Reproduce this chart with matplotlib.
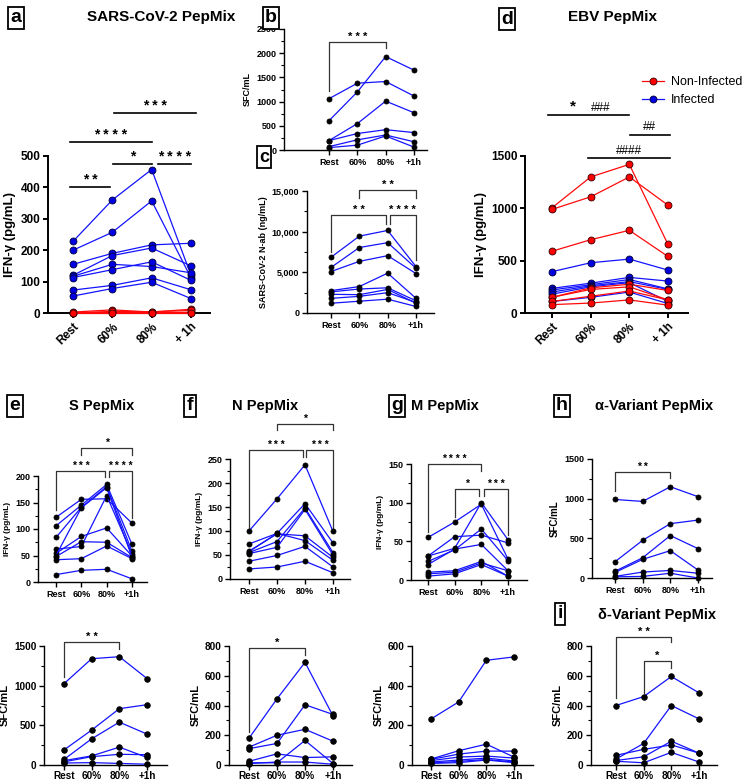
import matplotlib
matplotlib.use('Agg')
import matplotlib.pyplot as plt
from matplotlib.ticker import MultipleLocator, FuncFormatter

plt.rcParams['font.family'] = ['Liberation Sans', 'DejaVu Sans']

W, H = 743, 783
cats = [0, 1, 2, 3]
xlab_big = ['Rest', '60%', '80%', '+ 1h']
xlab_small = ['Rest', '60%', '80%', '+1h']

# a: SARS-CoV-2 PepMix IFN-g (pg/mL)
a_infected = [[228, 360, 457, 120], [200, 257, 357, 112], [155, 190, 217, 222],
              [120, 183, 207, 150], [117, 155, 148, 128], [113, 138, 163, 104],
              [73, 88, 112, 74], [54, 78, 98, 46]]
a_noninf = [[3, 10, 3, 12], [0, 2, 1, 2], [1, 5, 4, 8], [0, 0, 0, 0]]
# b: SFC/mL
b_sfc = [[605, 1200, 1930, 1650], [1060, 1380, 1415, 1115], [195, 545, 1010, 770],
         [195, 340, 420, 360], [70, 210, 310, 170], [50, 100, 290, 60]]
# c: N-ab (ng/mL)
c_nab = [[6850, 9450, 10150, 5700], [5600, 8050, 8650, 5500], [5100, 6350, 7050, 4850],
         [2750, 3250, 4900, 1800], [2600, 2950, 3100, 1500], [2300, 2250, 2900, 1200],
         [1800, 2050, 2500, 1300], [1200, 1450, 1700, 800]]
# d: EBV PepMix
d_noninf = [[1005, 1300, 1420, 655], [990, 1110, 1300, 1030], [590, 700, 790, 540],
            [150, 240, 275, 215], [150, 225, 250, 125], [110, 160, 210, 125],
            [80, 95, 125, 75]]
d_infected = [[395, 480, 515, 410], [235, 285, 340, 305], [220, 270, 320, 230],
              [200, 260, 300, 225], [180, 250, 290, 110], [110, 150, 200, 90]]
# e-h top row IFN-g / SFC
e_ifn = [[122, 156, 157, 111], [106, 145, 184, 71], [84, 141, 180, 58],
         [62, 67, 163, 53], [54, 86, 102, 49], [48, 76, 75, 46],
         [42, 44, 68, 44], [50, 140, 178, 47], [14, 22, 24, 6]]
f_ifn = [[100, 167, 238, 99], [73, 95, 157, 75], [58, 94, 90, 45],
         [55, 78, 148, 55], [53, 66, 145, 50], [57, 95, 80, 39],
         [37, 49, 68, 25], [21, 25, 37, 13]]
g_ifn = [[55, 75, 98, 27], [31, 56, 58, 48], [31, 41, 100, 52], [24, 39, 66, 25],
         [20, 40, 46, 12], [10, 12, 24, 5], [8, 10, 22, 12], [5, 8, 20, 5]]
h_sfc = [[990, 965, 1150, 1025], [205, 475, 685, 730], [85, 255, 535, 370],
         [70, 235, 345, 100], [20, 75, 95, 60], [15, 20, 60, 0]]
# bottom row SFC/mL
e2_sfc = [[1025, 1340, 1365, 1090], [190, 440, 710, 760], [70, 330, 540, 390],
          [55, 115, 225, 95], [40, 105, 135, 130], [25, 30, 20, 10]]
f2_sfc = [[180, 445, 690, 330], [110, 145, 405, 340], [120, 200, 240, 160],
          [25, 75, 50, 55], [15, 15, 165, 10], [10, 20, 20, 5]]
g2_sfc = [[232, 318, 528, 545], [30, 72, 105, 40], [28, 55, 70, 70], [22, 40, 45, 35],
          [15, 25, 35, 20], [10, 18, 28, 15], [8, 12, 25, 12]]
i_sfc = [[400, 460, 595, 485], [40, 145, 400, 310], [65, 105, 135, 80],
         [30, 55, 160, 80], [25, 15, 85, 20]]

BLUE = '#1414ff'
RED = '#ff0a0a'

fig = plt.figure(figsize=(W / 100, H / 100), dpi=100)


def make_ax(L, rest, last, R, top, bot, ymax, major, minor, tfs, lw=1.0, xpad=2):
    ax = fig.add_axes([L / W, 1 - bot / H, (R - L) / W, (bot - top) / H])
    s = (last - rest) / 3
    ax.set_xlim((L - rest) / s, (R - rest) / s)
    ax.set_ylim(0, ymax)
    ax.spines[['top', 'right']].set_visible(False)
    for sp in ['left', 'bottom']:
        ax.spines[sp].set_linewidth(lw)
    ax.yaxis.set_major_locator(MultipleLocator(major))
    if minor:
        ax.yaxis.set_minor_locator(MultipleLocator(minor))
    ax.set_xticks(cats)
    ax.tick_params(axis='both', which='major', labelsize=tfs, width=lw, length=3.5, pad=2)
    ax.tick_params(axis='x', which='major', pad=xpad)
    ax.tick_params(axis='y', which='minor', width=lw * 0.8, length=2)
    for t in ax.get_xticklabels() + ax.get_yticklabels():
        t.set_fontweight('bold')
    return ax


def lines(ax, data, color, mfc, mec, ms, lw=0.9):
    out = None
    for row in data:
        out, = ax.plot(cats, row, '-o', color=color, mfc=mfc, mec=mec, ms=ms, lw=lw,
                       mew=0.6, clip_on=False, zorder=3)
    return out


def bracket(ax, x1, x2, y, yl1, yl2, text, fs, lw=0.9):
    ax.plot([x1, x1, x2, x2], [yl1, y, y, yl2], color='#333333', lw=lw, clip_on=False)
    ax.text((x1 + x2) / 2, y, text, ha='center', va='bottom', fontsize=fs,
            fontweight='bold', clip_on=False)


def hline(ax, x1, x2, y, text, fs, lw=1.2):
    ax.plot([x1, x2], [y, y], color='black', lw=lw, clip_on=False)
    if text:
        ax.text((x1 + x2) / 2, y, text, ha='center', va='bottom', fontsize=fs,
                fontweight='bold', clip_on=False)


def letter(x, y, s, fs=14):
    fig.text(x / W, 1 - y / H, s, fontsize=fs, fontweight='bold', ha='center', va='center',
             bbox=dict(boxstyle='square,pad=0.12', fc='white', ec='black', lw=1.3))


def title(x, y, s, fs=10.5):
    fig.text(x / W, 1 - y / H, s, fontsize=fs, fontweight='bold', ha='center', va='center')


def small_labels(ax, ylabel, yfs):
    ax.set_xticklabels(xlab_small)
    for t in ax.get_xticklabels():
        t.set_fontweight('bold')
    ax.set_ylabel(ylabel, fontsize=yfs, fontweight='bold', labelpad=3)


# ---- a ----
ax = make_ax(48, 73, 191, 210, 156, 313, 500, 100, None, 8.5, lw=1.4)
lines(ax, a_infected, BLUE, '#0000e0', '#000033', 5.0)
lines(ax, a_noninf, RED, '#ff0000', '#330000', 5.0)
ax.set_xticklabels(xlab_big, rotation=45, ha='right', rotation_mode='anchor')
for t in ax.get_xticklabels():
    t.set_fontweight('bold')
ax.set_ylabel('IFN-γ (pg/mL)', fontsize=9.5, fontweight='bold', labelpad=3)
hline(ax, -0.08, 0.94, 401, '* *', 10)
hline(ax, 1.02, 2.0, 475, '*', 10)
hline(ax, 2.15, 3.0, 475, '* * * *', 10)
hline(ax, -0.08, 2.0, 545, '* * * *', 10)
hline(ax, 1.04, 3.13, 637, '* * *', 10)

# ---- b ----
ax = make_ax(284, 329, 414, 427, 29, 150, 2500, 500, 250, 6.5)
lines(ax, b_sfc, BLUE, 'black', 'black', 3.6)
small_labels(ax, 'SFC/mL', 6.5)
bracket(ax, 0, 2.0, 2240, 1226, 2114, '* * *', 8)

# ---- c ----
ax = make_ax(307, 331, 416, 434, 191, 313, 15000, 5000, 2500, 6.5)
lines(ax, c_nab, BLUE, 'black', 'black', 3.6)
ax.yaxis.set_major_formatter(FuncFormatter(lambda v, p: f'{int(v):,}'))
for t in ax.get_yticklabels():
    t.set_fontweight('bold')
small_labels(ax, 'SARS-CoV-2 N-ab (ng/mL)', 6.5)
bracket(ax, 1.0, 3.0, 15120, 14090, 14090, '* *', 8)
bracket(ax, 0, 1.94, 12040, 7500, 11000, '* *', 8)
bracket(ax, 2.07, 3.0, 12040, 11000, 6490, '* * * *', 8)

# ---- d ----
ax = make_ax(525, 552, 668, 688, 156, 313, 1500, 500, None, 8.5, lw=1.4)
h_inf = lines(ax, d_infected, BLUE, '#0000e0', '#000033', 5.0)
h_non = lines(ax, d_noninf, RED, '#ff0000', '#330000', 5.0)
ax.set_xticklabels(xlab_big, rotation=45, ha='right', rotation_mode='anchor')
for t in ax.get_xticklabels():
    t.set_fontweight('bold')
ax.set_ylabel('IFN-γ (pg/mL)', fontsize=9.5, fontweight='bold', labelpad=3)
hline(ax, -0.1, 1.99, 1892, None, 10)
hline(ax, 2.02, 3.05, 1701, None, 10)
hline(ax, 0.93, 3.05, 1481, None, 10)
ax.text(0.54, 1905, '*', ha='center', va='bottom', fontsize=11, fontweight='bold', clip_on=False)
ax.text(1.25, 1905, '###', ha='center', va='bottom', fontsize=8.5, clip_on=False)
ax.text(2.53, 1715, '##', ha='center', va='bottom', fontsize=8.5, clip_on=False)
ax.text(1.99, 1495, '####', ha='center', va='bottom', fontsize=8.5, clip_on=False)
ax.legend([h_non, h_inf], ['Non-Infected', 'Infected'], loc='upper left',
          bbox_to_anchor=(636 / W, 1 - 70 / H), bbox_transform=fig.transFigure,
          frameon=False, fontsize=9, handlelength=1.7, handletextpad=0.6,
          labelspacing=0.45, borderpad=0)

# ---- e ----
ax = make_ax(38, 56, 132, 147, 476, 582, 200, 50, 25, 6.5)
lines(ax, e_ifn, BLUE, 'black', 'black', 3.6)
small_labels(ax, 'IFN-γ (pg/mL)', 6)
bracket(ax, 0, 1.94, 209, 136, 198, '* * *', 7.5)
bracket(ax, 2.09, 3.0, 209, 198, 121, '* * * *', 7.5)
bracket(ax, 1.0, 3.0, 253, 240, 240, '*', 7.5)

# ---- f ----
ax = make_ax(230, 249, 333, 350, 459, 579, 250, 50, 25, 6.5)
lines(ax, f_ifn, BLUE, 'black', 'black', 3.6)
small_labels(ax, 'IFN-γ (pg/mL)', 6)
bracket(ax, 0, 1.94, 269, 100, 254, '* * *', 7.5)
bracket(ax, 2.04, 3.0, 269, 254, 102, '* * *', 7.5)
bracket(ax, 1.0, 3.0, 323, 310, 310, '*', 7.5)

# ---- g ----
ax = make_ax(411, 428, 508, 527, 464, 580, 150, 50, 25, 6.5)
lines(ax, g_ifn, BLUE, 'black', 'black', 3.6)
small_labels(ax, 'IFN-γ (pg/mL)', 6)
bracket(ax, 0, 2.0, 150, 62, 141, '* * * *', 7.5)
bracket(ax, 1.0, 1.9, 118, 81, 109, '*', 7.5)
bracket(ax, 2.1, 3.0, 118, 109, 58, '* * *', 7.5)

# ---- h ----
ax = make_ax(592, 615, 698, 712, 459, 578, 1500, 500, 250, 6.5)
lines(ax, h_sfc, BLUE, 'black', 'black', 3.6)
small_labels(ax, 'SFC/mL', 7)
bracket(ax, 0, 2.0, 1336, 1097, 1260, '* *', 7.5)

# ---- bottom row ----
ax = make_ax(44, 64, 147, 167, 646, 765, 1500, 500, 250, 7.2, xpad=1)
lines(ax, e2_sfc, BLUE, 'black', 'black', 4.0)
small_labels(ax, 'SFC/mL', 8)
bracket(ax, 0, 2.0, 1550, 1110, 1460, '* *', 8)

ax = make_ax(229, 249, 333, 352, 646, 765, 800, 200, 100, 7.2, xpad=1)
lines(ax, f2_sfc, BLUE, 'black', 'black', 4.0)
small_labels(ax, 'SFC/mL', 8)
bracket(ax, 0, 2.0, 787, 225, 740, '*', 8)

ax = make_ax(412, 431, 514, 533, 646, 765, 600, 200, 100, 7.2, xpad=1)
lines(ax, g2_sfc, BLUE, 'black', 'black', 4.0)
small_labels(ax, 'SFC/mL', 8)

ax = make_ax(591, 616, 699, 717, 646, 765, 800, 200, 100, 7.2, xpad=1)
lines(ax, i_sfc, BLUE, 'black', 'black', 4.0)
small_labels(ax, 'SFC/mL', 8)
bracket(ax, 0, 2.0, 860, 450, 826, '* *', 8)
bracket(ax, 1.0, 2.0, 700, 483, 655, '*', 8)

# titles and panel letters
title(161, 17, 'SARS-CoV-2 PepMix', 11)
title(612, 17, 'EBV PepMix', 11)
title(102, 406, 'S PepMix')
title(265, 406, 'N PepMix')
title(445, 406, 'M PepMix')
title(654, 406, 'α-Variant PepMix')
title(657, 615, 'δ-Variant PepMix')
for x, y, s in [(16, 18, 'a'), (271, 18, 'b'), (507, 19, 'd'),
                (15, 406, 'e'), (190, 406, 'f'), (397, 406, 'g'), (562, 406, 'h'),
                (560, 614, 'i')]:
    letter(x, y, s)
letter(264, 157, 'c', 13)

fig.savefig('out.png', dpi=100)
